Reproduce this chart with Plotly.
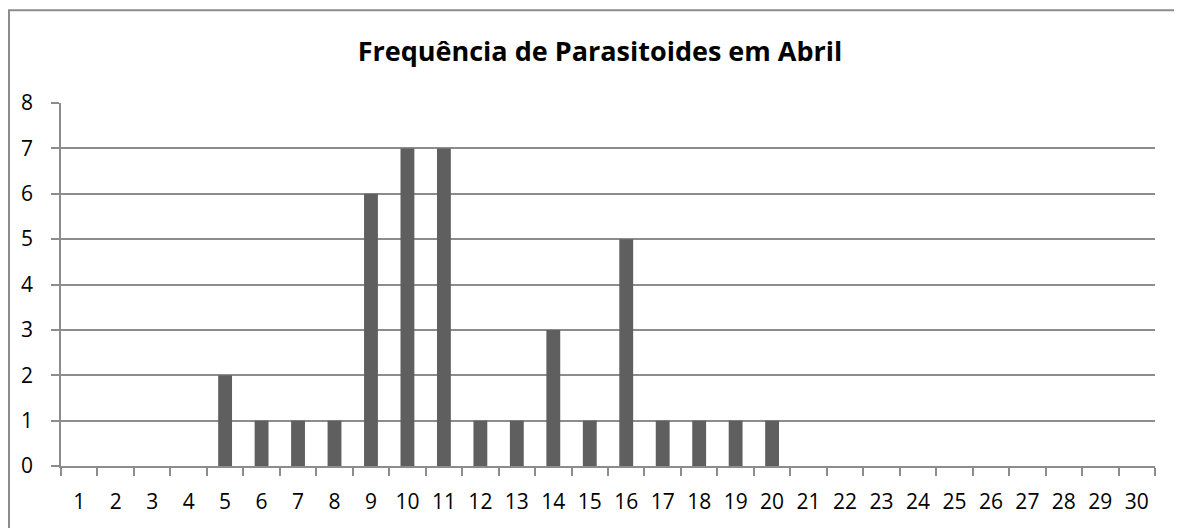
import plotly.graph_objects as go

days = [str(d) for d in range(1, 31)]
counts = [0, 0, 0, 0, 2, 1, 1, 1, 6, 7, 7, 1, 1, 3, 1, 5, 1, 1, 1, 1,
          0, 0, 0, 0, 0, 0, 0, 0, 0, 0]
title = "Frequência de Parasitoides em Abril"

fig = go.Figure(go.Bar(
    x=days, y=counts,
    marker=dict(color="#5f5f5f", line=dict(width=0)),
))

# page has an 8px body margin; figure sized to fit the window
OFF = 8
W, H = 1182 - OFF, 528 - OFF
ml, mr, mt, mb = 61 - OFF, 27, 103 - OFF, 61.5
pw, ph = W - ml - mr, H - mt - mb

def px(x):
    return (x - OFF - ml) / pw

def py(y):
    return (H - mb - (y - OFF)) / ph

FONT = "Open Sans, Liberation Sans, sans-serif"
GRAY = "#8c8c8c"

fig.update_layout(
    width=W, height=H,
    margin=dict(l=ml, r=mr, t=mt, b=mb, pad=0),
    paper_bgcolor="white", plot_bgcolor="white",
    bargap=0.62,
    showlegend=False,
    font=dict(family=FONT, color="black", size=21),
    title=dict(text="<b>" + title + "</b>", xref="container", x=(600 - OFF) / W,
               xanchor="center", y=1 - (52 - OFF) / H, yanchor="middle",
               font=dict(size=27, family=FONT, color="black")),
    xaxis=dict(type="category", tickson="boundaries", ticks="outside", ticklen=8,
               tickcolor=GRAY, tickwidth=1.5, showline=True, linecolor=GRAY,
               linewidth=1.5, showgrid=False, tickfont=dict(size=21), ticklabelstandoff=16),
    yaxis=dict(range=[0, 8], dtick=1, ticks="outside", ticklen=8, tickcolor=GRAY,
               tickwidth=1.5, showline=True, linecolor=GRAY, linewidth=1.5,
               showgrid=True, gridcolor=GRAY, gridwidth=1.5, zeroline=False,
               tickfont=dict(size=21), ticklabelstandoff=14),
    shapes=[dict(type="rect", xref="paper", yref="paper",
                 x0=px(9), x1=px(1300), y0=py(600), y1=py(10),
                 line=dict(color=GRAY, width=2), fillcolor="rgba(0,0,0,0)", layer="above")],
)

fig.write_html("out.html")
